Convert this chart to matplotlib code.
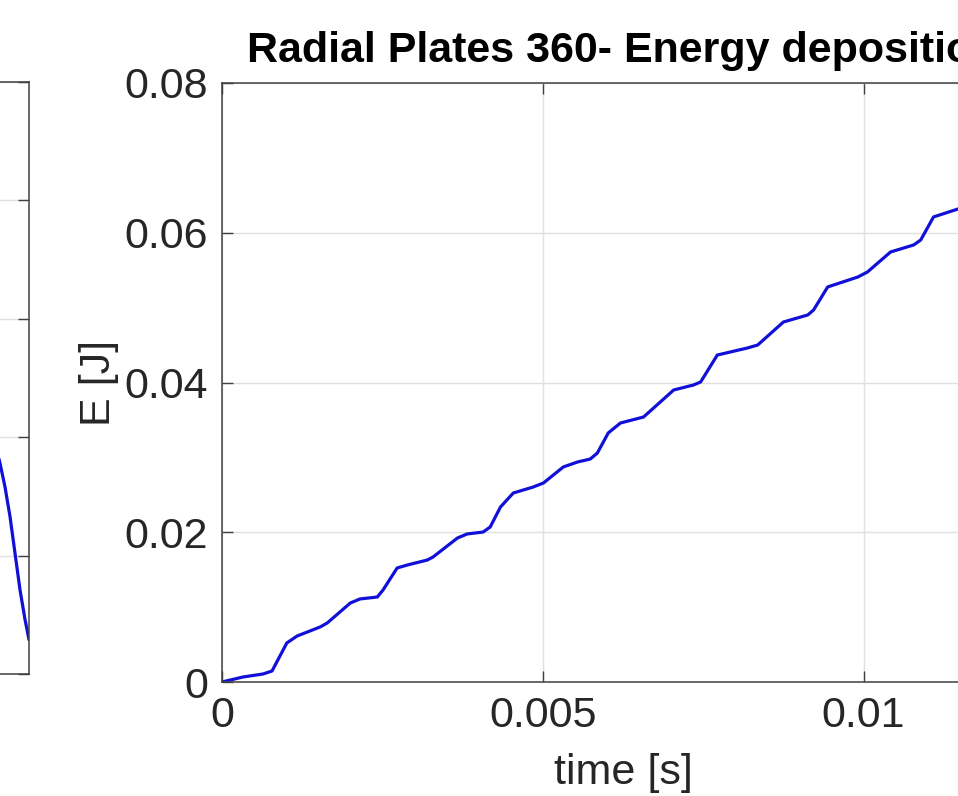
import matplotlib
matplotlib.use("Agg")
import matplotlib.pyplot as plt

plt.rcParams['font.family'] = ['Liberation Sans', 'DejaVu Sans']

# Right panel: energy deposition
time_s = [0.0, 0.000328, 0.00064, 0.00078, 0.00101, 0.00117, 0.00153, 0.00164,
          0.00200, 0.00215, 0.00242, 0.00251, 0.00273, 0.00289, 0.00320, 0.00329,
          0.00367, 0.00382, 0.00407, 0.00418, 0.00434, 0.00454, 0.00485, 0.00501,
          0.00532, 0.00554, 0.00574, 0.00585, 0.00602, 0.00621, 0.00657, 0.00704,
          0.00735, 0.00746, 0.00772, 0.00819, 0.00835, 0.00875, 0.00913, 0.00922,
          0.00944, 0.00991, 0.01006, 0.01042, 0.01078, 0.01089, 0.01109, 0.01147,
          0.01180]
energy_J = [0.0, 0.00067, 0.00107, 0.00147, 0.00521, 0.00614, 0.00735, 0.00788,
            0.01055, 0.01109, 0.01135, 0.01229, 0.01523, 0.01563, 0.01629, 0.01670,
            0.01923, 0.01977, 0.02003, 0.02070, 0.02337, 0.02524, 0.02604, 0.02658,
            0.02872, 0.02938, 0.02978, 0.03058, 0.03326, 0.03459, 0.03539, 0.03900,
            0.03967, 0.04007, 0.04367, 0.04461, 0.04501, 0.04808, 0.04902, 0.04968,
            0.05276, 0.05409, 0.05476, 0.05743, 0.05837, 0.05903, 0.06211, 0.06317,
            0.06360]

# Left (mostly cropped) panel: visible tail of its curve
left_time = [0.012017, 0.012048, 0.012126, 0.012204, 0.012282, 0.012360, 0.012438, 0.0125]
left_vals = [1.85, 1.78, 1.58, 1.33, 1.02, 0.71, 0.46, 0.29]

x_ticks = [0, 0.005, 0.01]
x_ticklabels = ['0', '0.005', '0.01']
y_ticks = [0, 0.02, 0.04, 0.06, 0.08]
y_ticklabels = ['0', '0.02', '0.04', '0.06', '0.08']

W, H = 958, 796
fig = plt.figure(figsize=(W / 100, H / 100), dpi=100)

line_col = '#1010d8'
axis_col = '#404040'
grid_col = '#e0e0e0'
fs = 31


def style(ax):
    for s in ax.spines.values():
        s.set_color(axis_col)
        s.set_linewidth(1.1)
    ax.tick_params(direction='in', length=8, width=1.0, color=axis_col,
                   labelsize=fs, labelcolor='#262626', top=True, right=True, pad=10)
    ax.grid(True, color=grid_col, linewidth=1.0)
    ax.set_axisbelow(True)


# Left panel (right edge at x=29px)
axL = fig.add_axes([(29 - 802) / W, (H - 674) / H, 802 / W, (674 - 82) / H])
axL.plot(left_time, left_vals, color=line_col, linewidth=2.3,
         solid_capstyle='round', solid_joinstyle='round')
axL.set_xlim(0, 0.0125)
axL.set_ylim(0, 5)
axL.set_yticks([0, 1, 2, 3, 4, 5])
axL.set_xticks(x_ticks)
style(axL)
axL.set_xticklabels([])
axL.set_yticklabels([])

# Right panel
ax = fig.add_axes([222 / W, (H - 682) / H, 802 / W, (682 - 83) / H])
ax.plot(time_s, energy_J, color=line_col, linewidth=2.3,
        solid_capstyle='round', solid_joinstyle='round')
ax.set_xlim(0, 0.0125)
ax.set_ylim(0, 0.08)
ax.set_xticks(x_ticks)
ax.set_xticklabels(x_ticklabels)
ax.set_yticks(y_ticks)
ax.set_yticklabels(y_ticklabels)
style(ax)
ax.set_xlabel('time [s]', fontsize=fs, color='#262626', labelpad=12)
ax.set_ylabel('E [J]', fontsize=fs, color='#262626', labelpad=4)
ax.set_title('Radial Plates 360- Energy deposition', fontsize=31, fontweight='bold',
             color='black', pad=15)

fig.savefig('out.png', dpi=100)
